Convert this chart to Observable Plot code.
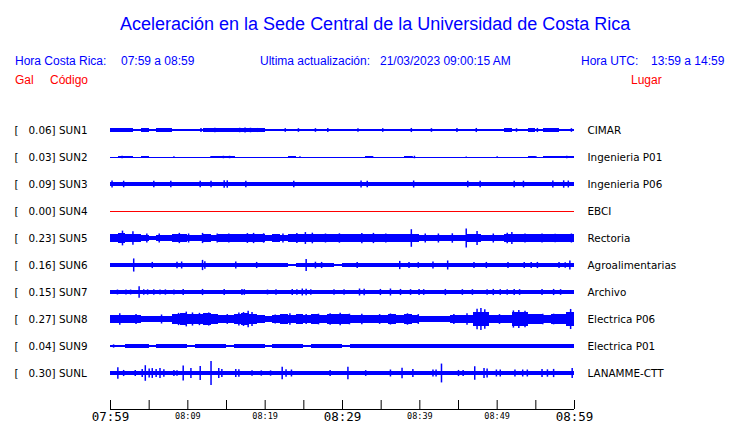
<!DOCTYPE html>
<html><head><meta charset="utf-8">
<script src="https://cdn.jsdelivr.net/npm/d3@7"></script>
<script src="https://cdn.jsdelivr.net/npm/@observablehq/plot@0.6"></script>
<style>
body{margin:0;background:#fff}
#wrap{position:relative;width:740px;height:423px;overflow:hidden;background:#fff}
.t{position:absolute;white-space:pre;font-family:"Liberation Sans",Arial,sans-serif;line-height:1;color:#0000ff}
.r{color:#ff0000}
#chart{position:absolute;left:0;top:0}
</style></head>
<body><div id="wrap"><div id="chart"></div></div>
<script>
// ---- text ----
const titleText = "Aceleración en la Sede Central de la Universidad de Costa Rica";
const infoTexts = ["Hora Costa Rica:", "07:59 a 08:59", "Ultima actualización:", "21/03/2023 09:00:15 AM", "Hora UTC:", "13:59 a 14:59"];
const headTexts = ["Gal", "Código", "Lugar"];

// ---- stations ----
const codes  = ["SUN1","SUN2","SUN3","SUN4","SUN5","SUN6","SUN7","SUN8","SUN9","SUNL"];
const places = ["CIMAR","Ingenieria P01","Ingenieria P06","EBCI","Rectoria","Agroalimentarias","Archivo","Electrica P06","Electrica P01","LANAMME-CTT"];
const peakGal = [0.06,0.03,0.09,0.00,0.23,0.16,0.15,0.27,0.04,0.30];

// time axis (minutes after 07:59)
const majorTicks = [0,30,60];
const minorTicks = [10,20,40,50];
const allTicks = [0,5,10,15,20,25,30,35,40,45,50,55,60];

// background half-amplitude per minute (gal), minutes 0..60
const envSUN1 = [.045,.045,.04,.03,.04,.035,.04,.04,.03,.025,.03,.025,.04,.045,.04,.045,.045,.045,.045,.04,.03,.02,.025,.02,.03,.025,.03,.025,.035,.02,.03,.025,.02,.03,.03,.035,.025,.03,.03,.02,.025,.03,.025,.02,.035,.035,.03,.035,.03,.025,.035,.04,.035,.035,.04,.035,.04,.04,.035,.035,.03];
const envSUN2 = [0,.02,.02,0,.02,0,0,0,.01,0,0,0,0,.02,.025,.02,0,0,0,0,0,0,0,.015,0,0,0,0,0,0,0,0,0,.015,0,0,0,0,.02,0,0,0,0,0,0,0,.01,0,0,0,.01,0,0,0,.015,0,.02,.02,.025,.02,0];
const envSUN3 = [.06,.055,.055,.05,.055,.055,.05,.055,.055,.055,.05,.055,.055,.055,.06,.06,.055,.055,.055,.05,.055,.055,.055,.055,.055,.05,.055,.055,.055,.055,.05,.055,.06,.06,.055,.055,.055,.055,.055,.06,.055,.055,.05,.055,.055,.055,.055,.055,.055,.055,.055,.055,.055,.055,.055,.055,.055,.06,.06,.06,.055];
const envSUN4 = [];
const envSUN5 = [.10,.11,.10,.10,.065,.06,.07,.08,.09,.095,.085,.085,.09,.085,.09,.095,.09,.10,.10,.095,.085,.09,.085,.09,.095,.10,.10,.095,.09,.095,.09,.09,.10,.095,.10,.09,.095,.09,.10,.09,.085,.085,.085,.08,.085,.08,.10,.095,.08,.075,.075,.10,.095,.09,.09,.09,.095,.09,.095,.095,.09];
const envSUN6 = [.044,.044,.044,.044,.044,.044,.044,.044,.044,.044,.044,.044,.044,.044,.044,.044,.044,.044,.044,.044,.044,.044,.044,.035,.044,.044,.044,.044,.044,.035,.044,.044,.044,.044,.044,.044,.044,.044,.044,.044,.044,.044,.044,.044,.044,.044,.044,.044,.044,.044,.044,.044,.044,.044,.044,.044,.044,.044,.044,.044,.044];
const envSUN7 = [.044,.044,.044,.044,.044,.044,.044,.044,.044,.044,.044,.044,.044,.044,.044,.044,.044,.044,.044,.044,.044,.044,.044,.044,.044,.044,.044,.044,.044,.044,.044,.044,.044,.044,.044,.044,.044,.044,.044,.044,.044,.044,.044,.044,.044,.044,.044,.044,.044,.044,.044,.044,.044,.044,.044,.044,.044,.044,.044,.044,.044];
const envSUN8 = [.10,.10,.095,.09,.075,.075,.08,.085,.12,.14,.13,.13,.14,.11,.09,.10,.13,.15,.13,.09,.085,.09,.11,.10,.11,.10,.11,.10,.11,.12,.11,.10,.10,.10,.095,.10,.11,.10,.11,.10,.08,.065,.065,.08,.10,.095,.10,.18,.17,.10,.095,.10,.16,.16,.13,.11,.10,.11,.12,.17,.15];
const envSUN9 = [.025,.03,.037,.037,.037,.033,.037,.037,.037,.037,.033,.037,.037,.037,.037,.033,.037,.037,.037,.037,.033,.037,.037,.037,.037,.033,.037,.037,.037,.037,.033,.037,.037,.037,.037,.037,.037,.037,.037,.037,.037,.037,.037,.037,.037,.037,.037,.037,.037,.037,.037,.037,.037,.037,.037,.037,.037,.037,.037,.037,.037];
const envSUNL = [.044,.044,.044,.044,.05,.06,.06,.05,.044,.044,.044,.044,.044,.05,.05,.044,.044,.044,.044,.044,.044,.044,.044,.044,.044,.044,.044,.044,.044,.044,.044,.044,.044,.044,.044,.044,.044,.044,.044,.044,.044,.044,.044,.044,.044,.044,.044,.044,.044,.044,.044,.044,.044,.044,.044,.044,.044,.044,.044,.044,.044];

// short bursts: [minute, half-amplitude gal]
const spkSUN1 = [[2.8,.05],[4.5,.045],[7.2,.05],[11.7,.05],[13.5,.055],[16.7,.055],[17.4,.06],[18.1,.055],[19,.05],[22.6,.045],[24.3,.045],[26.5,.045],[28.1,.05],[32,.045],[35.2,.045],[38.9,.05],[41.5,.045],[44.8,.05],[47.3,.05],[52.5,.045],[55.2,.05],[57.6,.05],[59.6,.045]];
const spkSUN2 = [[1.5,.03],[2.2,.025],[4.6,.025],[8.2,.02],[13,.025],[14.6,.03],[15.4,.03],[16,.025],[23.8,.025],[24.5,.02],[33.9,.02],[39,.025],[39.3,.03],[46,.015],[50,.02],[54.4,.02],[55,.025],[56.8,.025],[58,.02],[59,.03]];
const spkSUN3 = [[0.2,.085],[1.7,.08],[5.6,.08],[7.8,.08],[11.6,.08],[13,.08],[14.7,.09],[15.1,.09],[17.5,.08],[23.7,.08],[32.4,.085],[33.2,.08],[39.2,.085],[46.2,.08],[47.8,.08],[52.2,.08],[53.4,.08],[57.2,.085],[58.6,.09],[59.2,.085]];
const spkSUN4 = [];
const spkSUN5 = [[1.55,.18],[2.9,.165],[4.7,.11],[6.3,.11],[8.9,.125],[10.1,.11],[11.9,.125],[13.8,.11],[15.3,.11],[17.7,.12],[18.5,.125],[19.8,.115],[22.3,.11],[24.1,.12],[25.2,.145],[26.1,.13],[27.8,.11],[29.6,.115],[32.5,.125],[34,.125],[35.6,.11],[38.9,.215],[40.7,.11],[42.4,.11],[44.2,.115],[46,.23],[47.4,.17],[49.5,.11],[51.3,.13],[51.9,.145],[53.6,.11],[55.8,.11],[57.5,.105],[59.6,.11]];
const spkSUN6 = [[3,.16],[5.4,.075],[8.6,.08],[9.2,.085],[11.9,.125],[12.2,.09],[16.2,.085],[18.9,.075],[25.3,.145],[26.5,.08],[27.3,.075],[31.9,.075],[37.4,.1],[38.6,.075],[39.8,.07],[41.7,.085],[43.6,.11],[47,.075],[48.6,.075],[51.4,.075],[53.5,.075],[54.4,.075],[55.2,.075],[58,.075],[58.8,.07],[59.4,.11]];
const spkSUN7 = [[0.9,.06],[2,.06],[2.6,.06],[3.7,.14],[4.3,.07],[4.8,.065],[5.6,.065],[6.4,.06],[7.1,.065],[8.2,.06],[9.4,.075],[11.9,.075],[14.7,.075],[17,.075],[17.3,.07],[20.3,.06],[21.4,.065],[23.5,.075],[24.1,.07],[24.8,.085],[25.3,.08],[25.9,.07],[28.9,.065],[30.2,.065],[32.2,.085],[32.8,.08],[34.9,.075],[36.2,.085],[37.5,.075],[38.8,.07],[39.9,.075],[40.5,.07],[43.3,.075],[45.5,.07],[46.8,.07],[48.7,.07],[49.5,.075],[50.4,.07],[51.3,.07],[52.2,.075],[52.9,.07],[55.8,.075],[57.3,.075],[58.2,.07]];
const spkSUN8 = [[1.2,.14],[3.3,.12],[6.6,.11],[8.8,.15],[9.8,.18],[10.6,.16],[11.5,.15],[12.7,.16],[15.1,.12],[16.6,.16],[17.2,.17],[17.8,.20],[18.3,.17],[21.3,.11],[23.2,.14],[25.3,.12],[26.9,.13],[28.4,.14],[29.7,.15],[30.9,.13],[32.5,.13],[34.8,.12],[36.2,.135],[38.4,.14],[39.8,.12],[44.4,.12],[46.1,.14],[47.4,.25],[47.9,.27],[48.4,.24],[50.3,.12],[52.1,.21],[52.8,.22],[53.6,.2],[55.9,.13],[57.3,.13],[59.5,.245]];
const spkSUN9 = [[0.4,.04],[19.4,.04],[36.6,.04],[51.9,.04]];
const spkSUNL = [[0.95,.14],[1.7,.075],[3.2,.075],[4.1,.1],[4.5,.19],[5,.11],[5.4,.12],[5.9,.1],[6.4,.12],[6.9,.09],[8.2,.075],[8.6,.07],[9.4,.18],[10.4,.12],[11.6,.17],[13,.29],[14,.12],[14.4,.1],[16.2,.1],[16.6,.09],[18.3,.065],[19.5,.065],[20.7,.065],[22.2,.155],[22.7,.09],[23.4,.085],[28.4,.075],[30.7,.15],[33,.07],[36.2,.085],[37.7,.13],[39.1,.1],[41.7,.085],[42.1,.085],[42.8,.23],[45,.075],[45.6,.075],[47.1,.165],[48.3,.12],[48.7,.11],[49.9,.085],[50.4,.085],[52.3,.085],[53.3,.085],[53.9,.085],[55.8,.1],[56.5,.09],[57.3,.1],[59.7,.12]];

const envs = [envSUN1,envSUN2,envSUN3,envSUN4,envSUN5,envSUN6,envSUN7,envSUN8,envSUN9,envSUNL];
const spks = [spkSUN1,spkSUN2,spkSUN3,spkSUN4,spkSUN5,spkSUN6,spkSUN7,spkSUN8,spkSUN9,spkSUNL];

// ---- header (HTML) ----
const wrap = document.getElementById("wrap");
function addText(txt, left, top, size, cls) {
  const d = document.createElement("div");
  d.className = "t" + (cls ? " " + cls : "");
  d.style.left = left + "px"; d.style.top = top + "px"; d.style.fontSize = size + "px";
  d.textContent = txt; wrap.appendChild(d);
}
addText(titleText, 120, 15, 18);
[[15],[121],[260],[380],[581],[651]].forEach(([l], k) => addText(infoTexts[k], l, 55, 12));
[[15],[50],[631]].forEach(([l], k) => addText(headTexts[k], l, 74, 12, "r"));

// ---- chart ----
const BLUE = "#0000ff", RED = "#ff0000";
const start = Date.UTC(2023, 2, 21, 7, 59);
const T = m => new Date(start + m * 60000);
const axisRow = 31 / 3;          // axis baseline in row units
const K = 41 / 27;               // row units per gal
const fmt = d3.utcFormat("%H:%M");

const rows = codes.map((c, i) => ({i, code: c, place: places[i], gal: peakGal[i]}));
const marks = [];
rows.forEach(r => {
  const i = r.i;
  marks.push(Plot.ruleY([i], {stroke: i === 3 ? RED : BLUE, strokeWidth: 1}));
  if (envs[i].length) {
    marks.push(Plot.areaY(envs[i].map((a, m) => ({t: T(m), a})), {
      x: "t", y1: d => i - d.a * K, y2: d => i + d.a * K,
      curve: "step-after", fill: BLUE, shapeRendering: "crispEdges"
    }));
  }
  if (spks[i].length) {
    marks.push(Plot.ruleX(spks[i], {
      x: d => T(d[0]), y1: d => i - d[1] * K, y2: d => i + d[1] * K,
      stroke: BLUE, strokeWidth: 1.5
    }));
  }
});
marks.push(
  Plot.text(rows, {y: "i", text: d => `[\u00a0\u00a0\u00a0${d.gal.toFixed(2)}]\u00a0${d.code}`,
    frameAnchor: "left", dx: -96, textAnchor: "start", fontSize: 10.4, fontFamily: "DejaVu Sans", fill: "black"}),
  Plot.text(rows, {y: "i", text: "place",
    frameAnchor: "right", dx: 13, textAnchor: "start", fontSize: 10.4, fontFamily: "DejaVu Sans", fill: "black"}),
  Plot.ruleY([axisRow], {stroke: "black"}),
  Plot.ruleX(allTicks, {x: d => T(d), y1: axisRow - 1/3, y2: axisRow, stroke: "black"}),
  Plot.text(majorTicks, {x: d => T(d), y: axisRow, text: d => fmt(T(d)), dy: 7.5,
    fontSize: 12.5, fontFamily: "DejaVu Sans Mono", fill: "black"}),
  Plot.text(minorTicks, {x: d => T(d), y: axisRow, text: d => fmt(T(d)), dy: 7,
    fontSize: 8.5, fontFamily: "DejaVu Sans Mono", fill: "black"})
);

const chart = Plot.plot({
  width: 740, height: 423,
  marginLeft: 110, marginRight: 166, marginTop: 130, marginBottom: 14,
  style: {background: "transparent", overflow: "visible"},
  x: {type: "utc", domain: [T(0), T(60)], axis: null},
  y: {domain: [0, axisRow], reverse: true, axis: null},
  marks
});
document.getElementById("chart").appendChild(chart);
</script>
</body></html>
